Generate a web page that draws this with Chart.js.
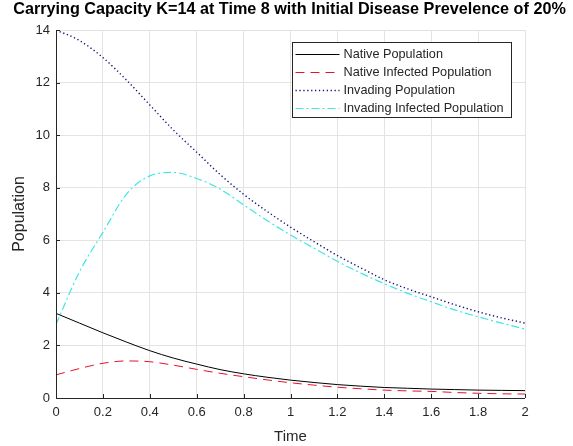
<!DOCTYPE html>
<html>
<head>
<meta charset="utf-8">
<script src="https://cdn.jsdelivr.net/npm/chart.js@4/dist/chart.umd.min.js"></script>
<style>
  html, body { margin: 0; padding: 0; background: #fff; }
  #wrap { width: 573px; height: 446px; }
</style>
</head>
<body>
<div id="wrap"><canvas id="chart" width="573" height="446"></canvas></div>
<script>
// Time points (step 0.1)
const times = [0, 0.1, 0.2, 0.3, 0.4, 0.5, 0.6, 0.7, 0.8, 0.9, 1.0,
  1.1, 1.2, 1.3, 1.4, 1.5, 1.6, 1.7, 1.8, 1.9, 2.0];

// Population values
const nativePop = [3.22, 2.85, 2.48, 2.13, 1.80, 1.52, 1.29, 1.08, 0.92, 0.79, 0.68,
  0.59, 0.51, 0.45, 0.40, 0.37, 0.34, 0.32, 0.30, 0.29, 0.28];
const nativeInfected = [0.88, 1.12, 1.32, 1.41, 1.38, 1.25, 1.09, 0.94, 0.81, 0.69, 0.58,
  0.49, 0.41, 0.35, 0.30, 0.27, 0.25, 0.21, 0.18, 0.16, 0.15];
const invadingPop = [14.0, 13.6, 12.95, 12.1, 11.15, 10.2, 9.35, 8.5, 7.75, 7.1, 6.5,
  5.95, 5.42, 4.95, 4.5, 4.15, 3.85, 3.55, 3.28, 3.05, 2.85];
const invadingInfected = [2.8, 4.8, 6.3, 7.75, 8.45, 8.58, 8.35, 7.95, 7.35, 6.75, 6.2,
  5.7, 5.2, 4.75, 4.35, 3.98, 3.66, 3.35, 3.09, 2.85, 2.62];

const xTicks = [0, 0.2, 0.4, 0.6, 0.8, 1, 1.2, 1.4, 1.6, 1.8, 2];
const yTicks = [0, 2, 4, 6, 8, 10, 12, 14];

const TITLE = 'Carrying Capacity K=14 at Time 8 with Initial Disease Prevelence of 20%';
const FONT = "'Liberation Sans', Arial, Helvetica, sans-serif";
const TEXT = '#262626';

function toPoints(vals) {
  return vals.map((v, i) => ({ x: times[i], y: v }));
}

// MATLAB style title, legend box inside the axes, inward tick marks
const matlabExtras = {
  id: 'matlabExtras',
  afterDraw(chart) {
    const ctx = chart.ctx;
    const area = chart.chartArea;
    const xs = chart.scales.x;
    const ys = chart.scales.y;

    // title (centered on the whole figure)
    ctx.save();
    ctx.font = 'bold 16.2px ' + FONT;
    ctx.fillStyle = '#000';
    ctx.textAlign = 'center';
    ctx.textBaseline = 'alphabetic';
    ctx.fillText(TITLE, chart.width / 2 + 3, 14);
    ctx.restore();

    // axis lines and inward ticks
    ctx.save();
    ctx.strokeStyle = TEXT;
    ctx.lineWidth = 1;
    ctx.beginPath();
    ctx.moveTo(area.left + 0.5, area.top);
    ctx.lineTo(area.left + 0.5, area.bottom + 0.5);
    ctx.lineTo(area.right, area.bottom + 0.5);
    xTicks.forEach(t => {
      const px = Math.round(xs.getPixelForValue(t)) + 0.5;
      ctx.moveTo(px, area.bottom);
      ctx.lineTo(px, area.bottom - 4);
    });
    yTicks.forEach(t => {
      const py = Math.round(ys.getPixelForValue(t)) + 0.5;
      ctx.moveTo(area.left, py);
      ctx.lineTo(area.left + 4, py);
    });
    ctx.stroke();
    ctx.restore();

    // legend
    const boxW = 219, boxH = 75;
    const bx = area.right - 14 - boxW + 0.5;
    const by = area.top + 12 + 0.5;
    ctx.save();
    ctx.fillStyle = '#fff';
    ctx.fillRect(bx, by, boxW, boxH);
    ctx.strokeStyle = TEXT;
    ctx.lineWidth = 1;
    ctx.strokeRect(bx, by, boxW, boxH);
    ctx.font = '12.7px ' + FONT;
    ctx.textBaseline = 'middle';
    chart.data.datasets.forEach((ds, i) => {
      const ry = Math.round(by + 11 + i * 18.3) + 0.5;
      ctx.beginPath();
      ctx.strokeStyle = ds.borderColor;
      ctx.lineWidth = ds.borderWidth;
      ctx.setLineDash(ds.borderDash || []);
      ctx.moveTo(bx + 3, ry);
      ctx.lineTo(bx + 47, ry);
      ctx.stroke();
      ctx.setLineDash([]);
      ctx.fillStyle = TEXT;
      ctx.fillText(ds.label, bx + 51, ry);
    });
    ctx.restore();
  }
};

const datasets = [
  {
    label: 'Native Population',
    data: toPoints(nativePop),
    borderColor: '#000000',
    borderWidth: 1
  },
  {
    label: 'Native Infected Population',
    data: toPoints(nativeInfected),
    borderColor: '#e8102a',
    borderWidth: 1,
    borderDash: [9, 6]
  },
  {
    label: 'Invading Population',
    data: toPoints(invadingPop),
    borderColor: '#14147a',
    borderWidth: 1.4,
    borderDash: [1.3, 2.6]
  },
  {
    label: 'Invading Infected Population',
    data: toPoints(invadingInfected),
    borderColor: '#3ee6e6',
    borderWidth: 1.2,
    borderDash: [8, 3, 2, 3]
  }
];

new Chart(document.getElementById('chart').getContext('2d'), {
  type: 'line',
  data: { datasets: datasets },
  options: {
    responsive: false,
    animation: false,
    devicePixelRatio: 1,
    layout: { padding: { left: 0, right: 48, top: 30, bottom: 0 } },
    elements: {
      point: { radius: 0 },
      line: { cubicInterpolationMode: 'monotone', fill: false }
    },
    plugins: {
      legend: { display: false },
      tooltip: { enabled: false },
      title: { display: false }
    },
    scales: {
      x: {
        type: 'linear',
        min: 0,
        max: 2,
        afterBuildTicks(scale) { scale.ticks = xTicks.map(v => ({ value: v })); },
        afterFit(scale) { scale.height = 48; },
        grid: { color: '#e3e3e3', drawTicks: false },
        border: { display: false },
        ticks: {
          color: TEXT,
          padding: 7,
          maxRotation: 0,
          font: { family: FONT, size: 13 },
          callback: v => String(v)
        },
        title: {
          display: true,
          text: 'Time',
          color: TEXT,
          font: { family: FONT, size: 15 },
          padding: { top: 2, bottom: 0 }
        }
      },
      y: {
        min: 0,
        max: 14,
        afterBuildTicks(scale) { scale.ticks = yTicks.map(v => ({ value: v })); },
        afterFit(scale) { scale.width = 56; },
        grid: { color: '#e3e3e3', drawTicks: false },
        border: { display: false },
        ticks: {
          color: TEXT,
          padding: 6,
          font: { family: FONT, size: 13 },
          callback: v => String(v)
        },
        title: {
          display: true,
          text: 'Population',
          color: TEXT,
          font: { family: FONT, size: 16 },
          padding: { top: 10, bottom: 0 }
        }
      }
    }
  },
  plugins: [matlabExtras]
});
</script>
</body>
</html>
